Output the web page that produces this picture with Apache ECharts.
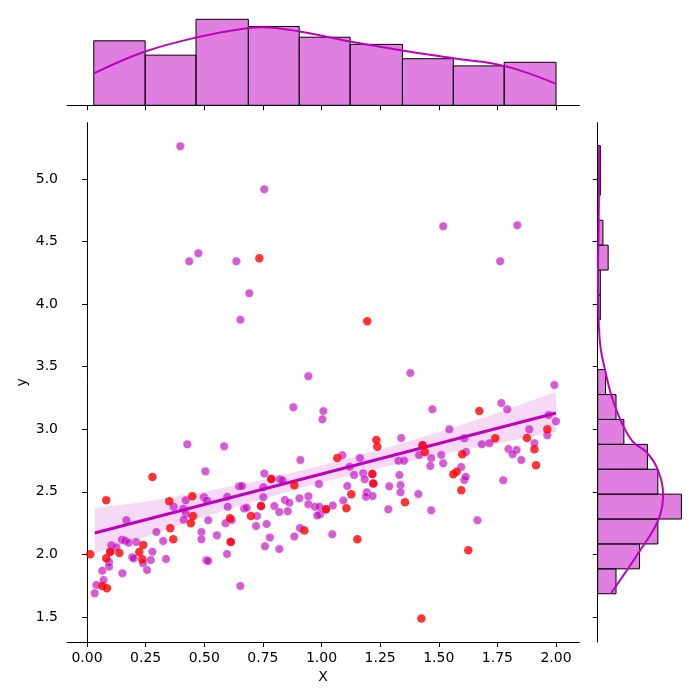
<!DOCTYPE html>
<html><head><meta charset="utf-8">
<script src="https://cdn.jsdelivr.net/npm/echarts@6/dist/echarts.min.js"></script>
<style>html,body{margin:0;padding:0;background:#fff}#c{width:700px;height:700px}</style>
</head><body><div id="c"></div>
<script>
// ---- data ----
const purpleX = [0.168,0.149,0.163,0.178,0.210,0.193,0.199,0.104,0.125,0.239,0.094,0.094,0.065,0.151,0.071,0.040,0.033,0.100,
 0.279,0.272,0.256,0.296,0.325,0.337,0.370,0.421,0.411,0.422,0.412,0.398,0.436,0.428,
 0.475,0.637,0.654,0.585,0.505,0.649,0.670,0.681,0.499,0.512,0.517,0.598,0.600,0.591,0.617,0.597,0.554,0.488,0.488,0.509,0.517,0.654,0.661,0.613,
 0.756,0.692,0.756,0.823,0.834,0.752,0.752,0.725,0.799,0.844,0.863,0.820,0.856,0.721,0.766,0.884,0.780,0.759,0.820,0.880,0.786,0.742,
 0.944,1.008,1.004,1.089,0.910,0.989,0.906,0.944,0.944,0.972,0.991,0.994,0.982,1.048,1.093,0.908,1.046,1.110,1.019,
 1.164,1.120,1.139,1.178,1.184,1.193,1.190,1.218,1.285,1.289,1.332,1.337,1.337,1.328,1.340,1.217,1.221,
 1.519,1.379,1.352,1.416,1.413,1.468,1.473,1.545,1.468,1.464,1.511,1.519,1.431,
 1.762,1.665,1.609,1.615,1.775,1.767,1.684,1.716,1.609,1.616,1.596,
 1.835,1.993,1.792,1.969,2.000,1.963,1.886,1.908,1.797,1.832,1.815,1.852];
const purpleY = [2.272,2.117,2.109,2.093,2.098,1.976,1.968,2.072,2.056,1.928,1.938,1.901,1.869,1.848,1.795,1.755,1.688,2.020,
 2.020,1.954,1.874,2.178,2.106,1.963,2.380,2.432,2.365,2.325,2.277,5.261,4.342,2.879,
 4.406,4.342,3.875,2.863,2.663,2.544,2.367,2.373,2.456,2.429,2.272,2.460,2.380,2.248,2.274,2.002,2.152,2.178,2.120,1.952,1.946,1.747,2.546,2.100,
 4.918,4.086,2.647,2.600,2.590,2.536,2.456,2.306,2.386,2.434,2.413,2.338,2.344,2.226,2.242,2.143,2.135,2.064,2.042,3.175,2.602,2.386,
 3.423,3.145,3.079,2.791,2.754,2.562,2.448,2.464,2.400,2.380,2.380,2.320,2.310,2.390,2.430,2.210,2.160,2.546,2.360,
 2.770,2.700,2.634,2.647,2.600,2.496,2.460,2.466,2.360,2.544,2.634,2.554,2.496,2.748,2.930,2.642,2.567,
 4.622,3.449,2.748,2.794,2.482,2.352,3.159,2.999,2.768,2.706,2.794,2.727,2.871,
 4.342,2.272,2.594,2.620,2.592,3.210,2.879,2.887,2.927,2.818,2.698,
 4.630,3.353,3.159,3.113,3.063,2.951,2.999,2.887,2.842,2.834,2.800,2.754];
const redX = [0.014,0.082,0.065,0.085,0.099,0.138,0.082,0.223,0.236,0.240,0.279,0.351,0.355,0.368,0.443,0.449,0.452,0.610,0.613,0.699,
 0.735,0.742,0.786,0.884,0.927,1.019,1.067,1.106,1.127,1.153,1.195,1.217,1.221,1.234,1.238,1.356,1.426,1.431,1.441,1.562,
 1.576,1.596,1.600,1.626,1.673,1.741,1.876,1.908,1.915,1.963];
const redY = [2.000,2.432,1.747,1.728,2.021,2.010,1.968,2.018,1.960,2.074,2.618,2.424,2.208,2.120,2.248,2.464,2.306,2.288,2.098,2.306,
 4.366,2.386,2.602,2.552,2.190,2.360,2.770,2.368,2.480,2.120,3.862,2.642,2.567,2.914,2.860,2.416,1.488,2.871,2.818,2.640,
 2.660,2.512,2.800,2.032,3.145,2.927,2.930,2.839,2.711,2.999];
// regression line and confidence band
const lineX = [0.033, 2.0];
const lineY = [2.17, 3.13];
const bandX  = [0.033, 0.25, 0.5, 0.75, 1.0, 1.25, 1.5, 1.75, 2.0];
const bandLo = [2.01, 2.14, 2.30, 2.445, 2.575, 2.69, 2.795, 2.885, 2.98];
const bandHi = [2.37, 2.42, 2.50, 2.595, 2.71, 2.835, 2.975, 3.13, 3.30];
// marginal histograms
const topEdges = [0.029, 0.248, 0.465, 0.688, 0.905, 1.122, 1.345, 1.562, 1.779, 2.0];
const topCounts = [18, 14, 24, 22, 19, 17, 13, 11, 12];
const rightEdges = [1.685,1.884,2.083,2.282,2.481,2.680,2.879,3.078,3.277,3.476,3.675,3.874,4.073,4.272,4.471,4.670,4.869,5.068,5.267];
const rightCounts = [7, 16, 23, 32, 23, 19, 10, 7, 3, 0, 0, 1, 1, 4, 2, 0, 1, 1];
// marginal KDE curves (scaled to counts)
const kdeTopX = [0.029, 0.248, 0.465, 0.688, 0.750, 0.905, 1.122, 1.345, 1.562, 1.779, 2.0];
const kdeTopY = [8.9, 15.0, 18.9, 21.6, 21.8, 20.6, 17.8, 15.3, 13.1, 11.0, 6.0];
const kdeRightY = [1.685, 2.018, 2.272, 2.472, 2.684, 2.818, 2.898, 3.058, 3.271, 3.484, 3.643, 3.857, 4.257, 4.656, 5.056, 5.269];
const kdeRightX = [4.97, 15.8, 23.1, 25.0, 22.8, 18.6, 13.5, 9.05, 5.2, 2.7, 1.15, 0.38, 0.13, 0.38, 0.5, 0.4];
// ticks
const xTicks = [0, 0.25, 0.5, 0.75, 1.0, 1.25, 1.5, 1.75, 2.0];
const yTicks = [1.5, 2.0, 2.5, 3.0, 3.5, 4.0, 4.5, 5.0];

// ---- chart ----
const XMIN = -0.0853, XMAX = 2.0993, YMIN = 1.2993, YMAX = 5.4497;
const PURPLE = '#bf00bf';
const FONT = 'DejaVu Sans';
const zip = (a, b) => a.map((v, i) => [v, b[i]]);
const chart = echarts.init(document.getElementById('c'), null, {renderer: 'canvas'});

const topHistData = topCounts.map((c, i) => [topEdges[i], topEdges[i + 1], c]);
const rightHistData = rightCounts.map((c, i) => [rightEdges[i], rightEdges[i + 1], c]).filter(d => d[2] > 0);

const axisLineStyle = {show: true, lineStyle: {color: '#000', width: 1}};
const tickStyle = (vals) => ({show: true, inside: false, length: 5, lineStyle: {color: '#000', width: 1}, customValues: vals});

chart.setOption({
  animation: false,
  backgroundColor: '#fff',
  grid: [
    {left: 67, top: 122.7, width: 512.3, height: 519.3},
    {left: 67, top: 15, width: 512.3, height: 90.3},
    {left: 597.7, top: 122.7, width: 87.9, height: 519.3}
  ],
  xAxis: [
    {gridIndex: 0, type: 'value', min: XMIN, max: XMAX, axisLine: axisLineStyle, axisTick: tickStyle(xTicks),
     splitLine: {show: false},
     axisLabel: {customValues: xTicks, formatter: v => v.toFixed(2), color: '#000', fontSize: 14, fontFamily: FONT, margin: 9},
     name: 'X', nameLocation: 'middle', nameGap: 27, nameTextStyle: {color: '#000', fontSize: 14, fontFamily: FONT}},
    {gridIndex: 1, type: 'value', min: XMIN, max: XMAX, axisLine: axisLineStyle, axisTick: tickStyle(xTicks),
     splitLine: {show: false}, axisLabel: {show: false}},
    {gridIndex: 2, type: 'value', min: 0, max: 33.6, show: false}
  ],
  yAxis: [
    {gridIndex: 0, type: 'value', min: YMIN, max: YMAX, axisLine: axisLineStyle, axisTick: tickStyle(yTicks),
     splitLine: {show: false},
     axisLabel: {customValues: yTicks, formatter: v => v.toFixed(1), color: '#000', fontSize: 14, fontFamily: FONT,
                 margin: 9, align: 'right'},
     name: 'y', nameLocation: 'middle', nameGap: 38, nameRotate: 90, nameMoveOverlap: false,
     nameTextStyle: {color: '#000', fontSize: 14, fontFamily: FONT}},
    {gridIndex: 1, type: 'value', min: 0, max: 25.2, show: false},
    {gridIndex: 2, type: 'value', min: YMIN, max: YMAX, axisLine: axisLineStyle, axisTick: tickStyle(yTicks),
     splitLine: {show: false}, axisLabel: {show: false}}
  ],
  series: [
    {type: 'scatter', xAxisIndex: 0, yAxisIndex: 0, z: 2, symbolSize: 8.5,
     itemStyle: {color: 'rgba(191,0,191,0.8)', borderColor: 'rgba(255,255,255,0.7)', borderWidth: 0.6},
     data: zip(purpleX, purpleY)},
    {type: 'custom', xAxisIndex: 0, yAxisIndex: 0, z: 3, silent: true,
     data: [[bandX[0], bandLo[0]]],
     renderItem: (params, api) => {
       const pts = [];
       for (let i = 0; i < bandX.length; i++) pts.push(api.coord([bandX[i], bandHi[i]]));
       for (let i = bandX.length - 1; i >= 0; i--) pts.push(api.coord([bandX[i], bandLo[i]]));
       return {type: 'polygon', shape: {points: pts, smooth: 0}, style: {fill: 'rgba(191,0,191,0.15)', stroke: null}};
     }},
    {type: 'line', xAxisIndex: 0, yAxisIndex: 0, z: 4, showSymbol: false, symbol: 'none',
     lineStyle: {color: PURPLE, width: 3}, data: zip(lineX, lineY)},
    {type: 'scatter', xAxisIndex: 0, yAxisIndex: 0, z: 5, symbolSize: 8.5,
     itemStyle: {color: '#ff0000'}, data: zip(redX, redY)},
    {type: 'custom', xAxisIndex: 1, yAxisIndex: 1, z: 2, encode: {x: [0, 1], y: 2},
     data: topHistData,
     renderItem: (params, api) => {
       const a = api.coord([api.value(0), api.value(2)]);
       const b = api.coord([api.value(1), 0]);
       return {type: 'rect', shape: {x: a[0], y: a[1], width: b[0] - a[0], height: b[1] - a[1]},
               style: {fill: 'rgba(191,0,191,0.5)', stroke: '#000', lineWidth: 1}};
     }},
    {type: 'line', xAxisIndex: 1, yAxisIndex: 1, z: 3, showSymbol: false, symbol: 'none', smooth: 0.4,
     lineStyle: {color: PURPLE, width: 2}, data: zip(kdeTopX, kdeTopY)},
    {type: 'custom', xAxisIndex: 2, yAxisIndex: 2, z: 2, encode: {y: [0, 1], x: 2},
     data: rightHistData,
     renderItem: (params, api) => {
       const a = api.coord([0, api.value(1)]);
       const b = api.coord([api.value(2), api.value(0)]);
       return {type: 'rect', shape: {x: a[0], y: a[1], width: b[0] - a[0], height: b[1] - a[1]},
               style: {fill: 'rgba(191,0,191,0.5)', stroke: '#000', lineWidth: 1}};
     }},
    {type: 'line', xAxisIndex: 2, yAxisIndex: 2, z: 3, showSymbol: false, symbol: 'none', smooth: 0.4,
     lineStyle: {color: PURPLE, width: 2}, data: zip(kdeRightX, kdeRightY)}
  ]
});
</script></body></html>
